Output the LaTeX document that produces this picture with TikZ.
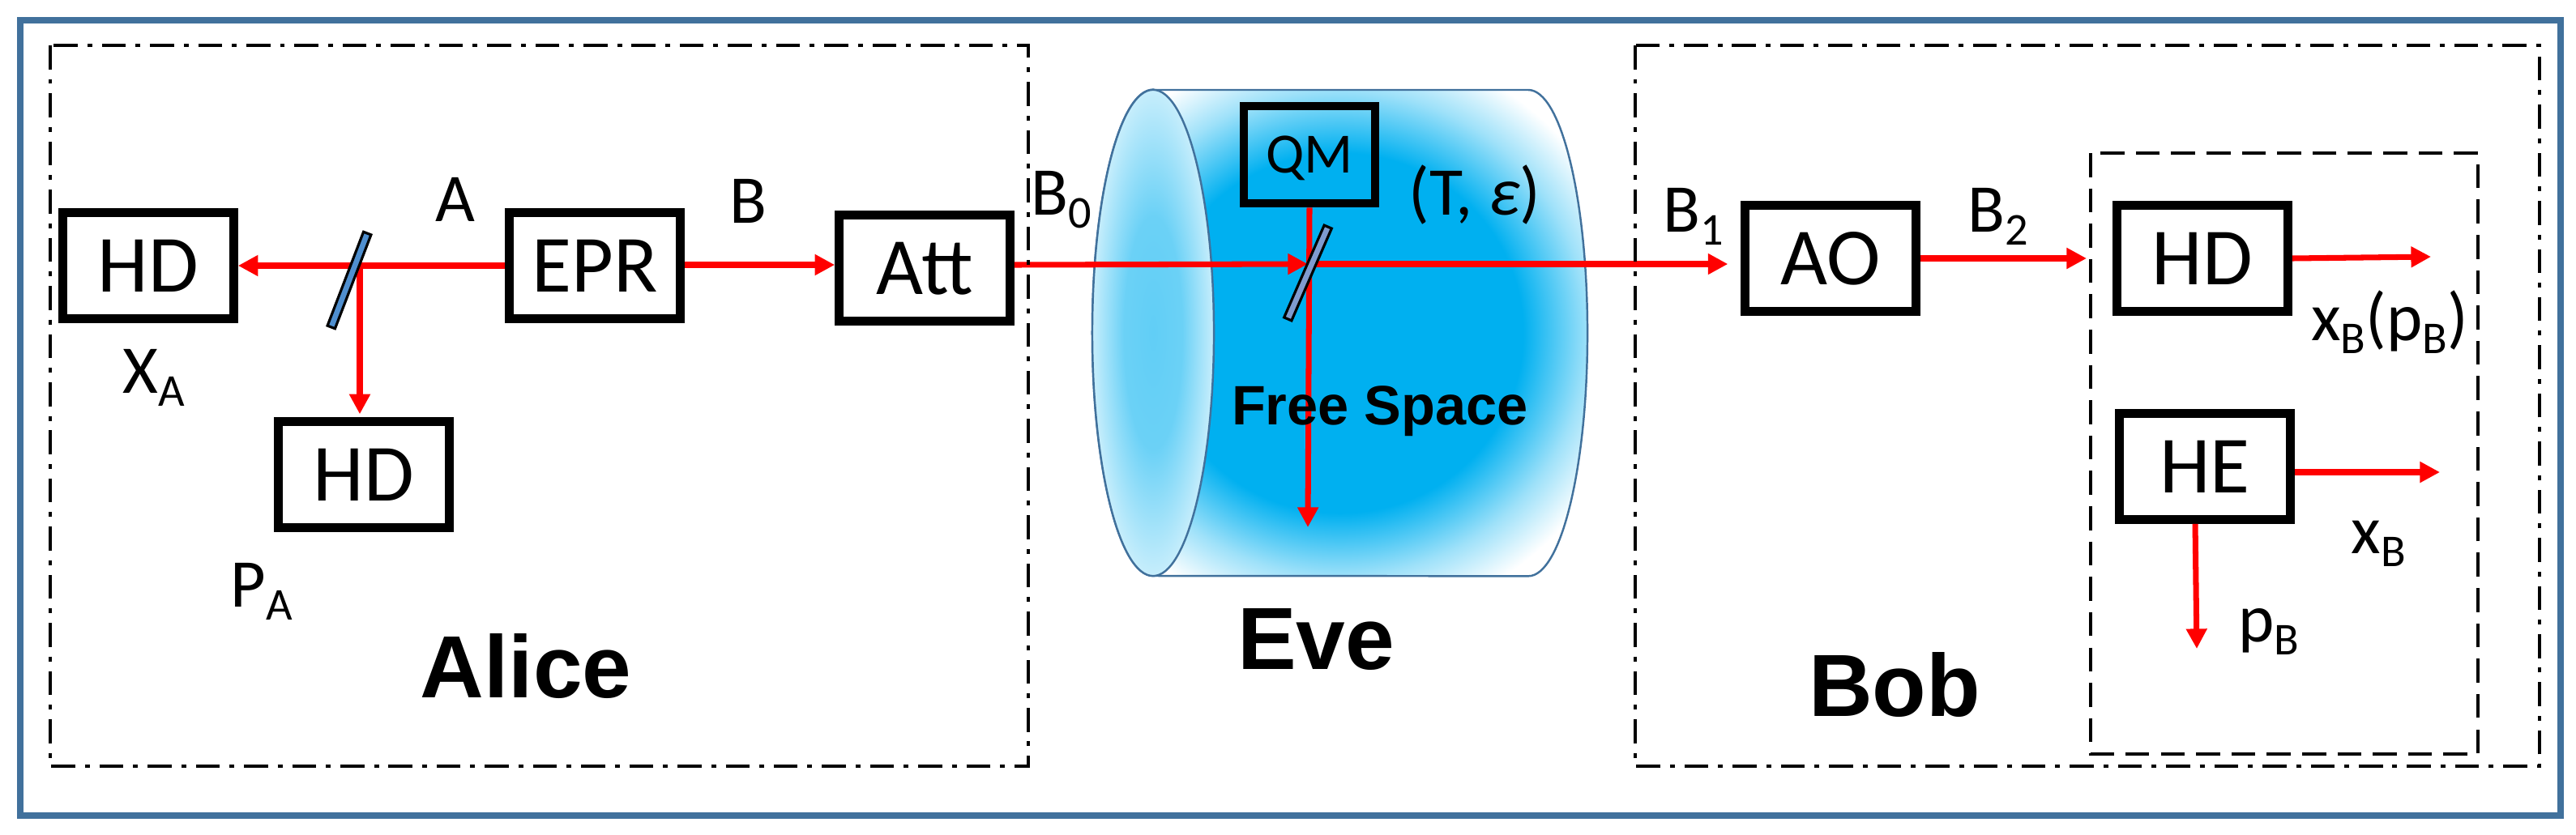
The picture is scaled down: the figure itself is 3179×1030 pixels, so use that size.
\documentclass[tikz,border=0pt]{standalone}
\usepackage{xcolor}
\usepackage{fontspec}
\setmainfont{Carlito}
\newfontfamily\titlefont{Liberation Sans}
\usetikzlibrary{positioning,shapes.geometric,arrows.meta}
\definecolor{framecol}{RGB}{65,113,156}
\definecolor{fscyan}{RGB}{0,176,240}
\definecolor{mirrorA}{RGB}{79,143,207}
\definecolor{mirrorB}{RGB}{127,155,207}
\pgfdeclareradialshading{freespace}{\pgfpointorigin}{color(0bp)=(fscyan); color(18.5bp)=(fscyan); color(25bp)=(fscyan!38!white); color(30bp)=(white); color(50bp)=(white)}
\pgfdeclareradialshading{frontface}{\pgfpointorigin}{color(0bp)=(fscyan!62!white); color(12bp)=(fscyan!58!white); color(25bp)=(fscyan!22!white); color(30bp)=(white); color(50bp)=(white)}
\newcommand{\lowtext}[1]{\raisebox{-4.6pt}{\fontsize{16}{16}\selectfont #1}}

\begin{document}
\begin{tikzpicture}[
  x=0.01cm, y=-0.01cm,
  devbox/.style={draw=black, line width=3pt, minimum width=2.11cm, minimum height=1.31cm, inner sep=0pt, text depth=0pt, font=\fontsize{28.5}{28.5}\selectfont},
  lbl/.style={anchor=base, inner sep=0pt, font=\fontsize{24}{24}\selectfont},
  title/.style={anchor=base, inner sep=0pt, font=\fontsize{31}{31}\titlefont\bfseries},
  beam/.style={draw=red, line width=2pt, -{Triangle[length=7pt,width=7pt]}},
  mirror/.style={draw=black, line width=0.9pt, minimum width=1.24cm, minimum height=0.1cm, inner sep=0pt},
  party/.style={draw=black, line width=1.15pt, dash pattern=on 8.4pt off 3.4pt on 1.7pt off 3.4pt}
]
  \useasboundingbox (0,0) rectangle (3179,1030);
  \draw[draw=framecol, line width=2.2pt] (25,25) rectangle (3160,1007);

  % Eve channel
  \path[shade, shading=freespace, draw=framecol, line width=0.7pt] (1423,111) -- (1886,111)
    arc[start angle=90, end angle=-90, x radius=0.73cm, y radius=3cm] -- (1423,711)
    arc[start angle=270, end angle=90, x radius=0.75cm, y radius=3cm] -- cycle;
  \node[ellipse, shade, shading=frontface, draw=framecol, line width=0.7pt, minimum width=1.5cm, minimum height=6cm, inner sep=0pt] (front) at (1423,411) {};

  \node[devbox] (hdx) at (183,328) {HD};
  \node[devbox] (hdp) at (449,586) {HD};
  \node[devbox] (epr) at (734,328) {EPR};
  \node[devbox] (att) at (1141,331) {Att};
  \node[devbox, minimum width=1.62cm, minimum height=1.2cm, font=\fontsize{20}{20}\selectfont] (qm) at (1616,191) {QM};
  \node[devbox] (ao) at (2259,319) {AO};
  \node[devbox] (hdb) at (2718,319) {HD};
  \node[devbox] (he) at (2721,576) {HE};

  \coordinate (splitA) at (444,329);
  \coordinate (splitE) at (1614,326);
  \coordinate (detin) at (2575,319);
  \coordinate (evedump) at (1614,651);
  \coordinate (xout) at (3000,317);
  \coordinate (heout) at (3011,583);
  \coordinate (pout) at (2711,801);

  \draw[beam] (epr.west) -- (hdx.east);
  \draw[beam, shorten >=1.1pt] (splitA) -- (splitA |- hdp.north);
  \draw[beam] (epr.east |- 0,327) -- (att.west |- 0,327);
  \draw[beam] (att.east |- 0,327) -- (splitE);
  \draw[beam, shorten >=4.5pt] (splitE) -- (ao.west |- splitE);
  \draw[beam] (qm.south) -- (evedump);
  \draw[beam] (ao.east) -- (detin);
  \draw[beam] (hdb.east) -- (xout);
  \draw[beam] (he.east |- heout) -- (heout);
  \draw[beam] (he.south -| 2709,0) -- (pout);

  \node[mirror, fill=mirrorA, rotate=69] (bsa) at (431,346) {};
  \node[mirror, fill=mirrorB, rotate=66.5] (bse) at (1614,337) {};

  \draw[party] (62,56) rectangle (1269,946);
  \draw[party] (2018,56) rectangle (3134,946);
  \draw[draw=black, line width=1.15pt, dash pattern=on 8.4pt off 4pt] (2580,189) rectangle (3058,931);

  \node[lbl] (la) at (562,273) {A};
  \node[lbl] (lb) at (923,275) {B};
  \node[lbl] (lxa) at (190,485) {X\lowtext{A}};
  \node[lbl] (lpa) at (323,749) {P\lowtext{A}};
  \node[lbl] (lb0) at (1310,265) {B\lowtext{0}};
  \node[lbl] (lte) at (1820,265) {(T, {\itshape ε})};
  \node[lbl] (lb1) at (2090,286) {B\lowtext{1}};
  \node[lbl] (lb2) at (2466,286) {B\lowtext{2}};
  \node[lbl] (lxp) at (2949,420) {x\lowtext{B}(p\lowtext{B})};
  \node[lbl] (lxb) at (2935,683) {x\lowtext{B}};
  \node[lbl] (lpb) at (2800,792) {p\lowtext{B}};

  \node[title, font=\fontsize{19.5}{19.5}\titlefont\bfseries] (fs) at (1703,524) {Free Space};
  \node[title] (alice) at (649,861) {Alice};
  \node[title] (eve) at (1624,826) {Eve};
  \node[title] (bob) at (2338,884) {Bob};
\end{tikzpicture}
\end{document}
